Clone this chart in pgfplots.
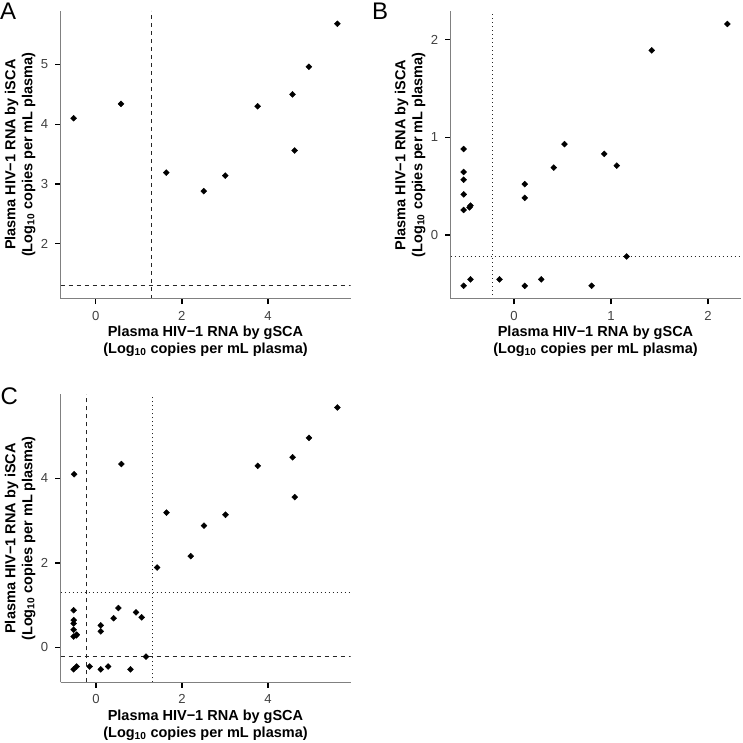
\documentclass[border=0pt]{standalone}
\usepackage{fontspec}
\setmainfont{Liberation Sans}
\usepackage{pgfplots}
\pgfplotsset{compat=1.18}
\usepackage{pgfplotstable}

\pgfplotstableread{
x y
-0.51 4.10
0.59 4.34
1.64 3.19
2.51 2.88
3.01 3.14
3.76 4.30
4.57 4.50
4.62 3.56
4.95 4.96
5.61 5.68
}\dataA

\pgfplotstableread{
x y
-0.52 0.88
-0.52 0.645
-0.52 0.566
-0.52 0.416
-0.52 0.256
-0.46 0.283
-0.45 0.30
-0.52 -0.52
-0.45 -0.454
-0.15 -0.454
0.11 0.52
0.11 0.38
0.11 -0.52
0.28 -0.454
0.41 0.69
0.52 0.93
0.80 -0.52
0.93 0.83
1.06 0.71
1.16 -0.22
1.42 1.89
2.20 2.16
}\dataB

\pgfplotsset{
  panel/.style={
    scale only axis, width=290pt, height=288pt,
    axis lines*=left,
    axis line style={black!50, line width=0.8pt, -},
    every tick/.style={black, line width=1.4pt},
    major tick length=5.5pt, tick align=outside,
    tick label style={font=\fontsize{13.1}{13.1}\selectfont, text=black!75},
    xticklabel style={yshift=-3.4pt},
    yticklabel style={xshift=-3.4pt},
    /pgf/number format/assume math mode=true,
    xlabel style={font=\bfseries\fontsize{14.5}{17}\selectfont, align=center,
      at={(axis description cs:0.5,0)}, anchor=north, inner sep=0pt, yshift=-27pt},
    ylabel style={font=\bfseries\fontsize{14.5}{17}\selectfont, align=center,
      at={(axis description cs:-0.086,0.5)}, anchor=south, inner sep=0pt},
    xlabel={Plasma HIV−1 RNA by gSCA\\(Log\textsubscript{10} copies per mL plasma)},
    ylabel={Plasma HIV−1 RNA by iSCA\\(Log\textsubscript{10} copies per mL plasma)},
    after end axis/.code={\draw[black!50, line width=0.8pt] (rel axis cs:0,0) -- (rel axis cs:1,0);},
    pts/.style={only marks, mark=square*, mark size=2.1pt, mark options={rotate=45, fill=black, draw=black}},
  },
  dashedref/.style={black!85, line width=0.8pt, dash pattern=on 4pt off 4pt, no marks},
  dottedref/.style={black!85, line width=0.8pt, dash pattern=on 1pt off 3pt, no marks},
}

\begin{document}
\begin{tikzpicture}
\useasboundingbox (0pt,0pt) rectangle (742pt,743pt);

% Panel A
\begin{axis}[panel, at={(60.5pt,444.3pt)}, anchor=south west,
  xmin=-0.816, xmax=5.916, ymin=1.081, ymax=5.899,
  xtick={0,2,4}, ytick={2,3,4,5}]
\addplot[dashedref] coordinates {(1.3,1.081) (1.3,5.899)};
\addplot[dashedref] coordinates {(-0.816,1.3) (5.916,1.3)};
\addplot[pts] table[x=x,y=y] {\dataA};
\end{axis}

% Panel B
\begin{axis}[panel, at={(450.5pt,444.1pt)}, anchor=south west,
  xmin=-0.656, xmax=2.336, ymin=-0.654, ymax=2.294,
  xtick={0,1,2}, ytick={0,1,2}]
\addplot[dottedref] coordinates {(-0.22,-0.654) (-0.22,2.294)};
\addplot[dottedref] coordinates {(-0.656,-0.22) (2.336,-0.22)};
\addplot[pts] table[x=x,y=y] {\dataB};
\end{axis}

% Panel C
\begin{axis}[panel, at={(60.5pt,60.6pt)}, anchor=south west,
  xmin=-0.8265, xmax=5.9165, ymin=-0.83, ymax=5.99,
  xtick={0,2,4}, ytick={0,2,4}]
\addplot[dashedref] coordinates {(-0.22,-0.83) (-0.22,5.99)};
\addplot[dashedref] coordinates {(-0.8265,-0.22) (5.9165,-0.22)};
\addplot[dottedref] coordinates {(1.3,-0.83) (1.3,5.99)};
\addplot[dottedref] coordinates {(-0.8265,1.3) (5.9165,1.3)};
\addplot[pts] table[x=x,y=y] {\dataA};
\addplot[pts] table[x=x,y=y] {\dataB};
\end{axis}

\node[anchor=north west, inner sep=0pt, font=\fontsize{24}{24}\selectfont] at (0pt,740.3pt) {A};
\node[anchor=north west, inner sep=0pt, font=\fontsize{24}{24}\selectfont] at (372pt,740.3pt) {B};
\node[anchor=north west, inner sep=0pt, font=\fontsize{24}{24}\selectfont] at (0.5pt,355pt) {C};
\end{tikzpicture}
\end{document}
